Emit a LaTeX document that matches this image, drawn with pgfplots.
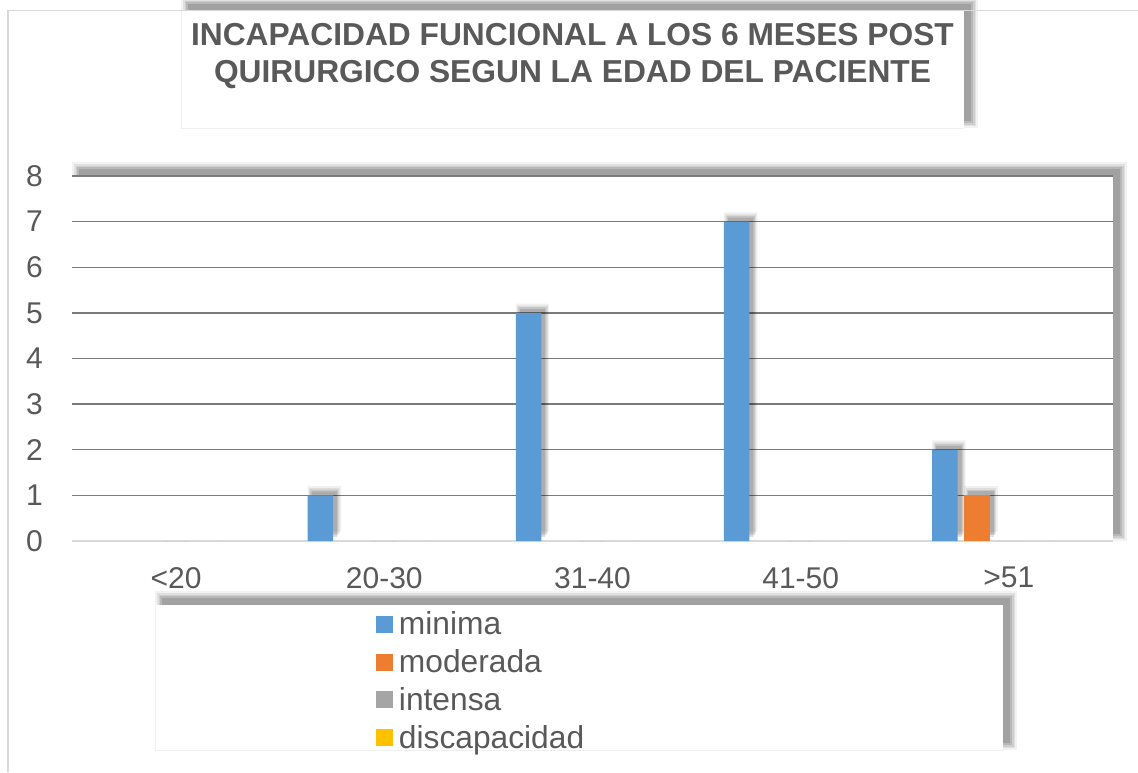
\documentclass[border=0pt]{standalone}
\usepackage{pgfplots}
\pgfplotsset{compat=1.18}
\usepackage{pgfplotstable}
\usepackage{fontspec}
\setmainfont{Liberation Sans}
\definecolor{txt}{HTML}{595959}
\definecolor{gridc}{HTML}{7A7A7A}
\definecolor{axc}{HTML}{D9D9D9}
\definecolor{cmin}{HTML}{5B9BD5}
\definecolor{cmod}{HTML}{ED7D31}
\definecolor{cint}{HTML}{A5A5A5}
\definecolor{cdis}{HTML}{FFC000}
\newcommand\PX[2]{({(#1)*0.75pt},{-(#2)*0.75pt})}
\newcommand\shadowbox[4]{%
  \foreach \d/\o in {7/0.05,5.25/0.07,3.5/0.08,1.75/0.10,0/0.12}{%
    \fill[black,opacity=\o] \PX{#1+7-\d}{#2-7-\d} rectangle \PX{#3+7+\d}{#4-7+\d};
  }%
  \fill[white] \PX{#1}{#2} rectangle \PX{#3}{#4};
}
\pgfplotstableread{
x minima moderada intensa discapacidad
0 0 0 0 0
1 1 0 0 0
2 5 0 0 0
3 7 0 0 0
4 2 1 0 0
}\datatable
\pgfplotsset{nz/.style={unbounded coords=discard, y filter/.expression={y==0 ? nan : y}},
  shd/.style={ybar, forget plot, draw=none, fill=black, nz}}
\begin{document}
\begin{tikzpicture}
\path[use as bounding box] (0,0) rectangle \PX{1138}{772};
\fill[white] (0,0) rectangle \PX{1138}{772};
\shadowbox{181}{11}{964}{128}
\shadowbox{155}{605}{1003}{750}
\shadowbox{72}{176}{1113}{541}
\draw[black!6, line width=0.75pt] \PX{181}{11} -- \PX{181}{128} -- \PX{964}{128};
\draw[black!6, line width=0.75pt] \PX{155}{605} -- \PX{155}{750} -- \PX{1003}{750};
\draw[axc, line width=1.2pt] \PX{8}{772} -- \PX{8}{10.5} -- \PX{1138}{10.5};
\node[anchor=base, font=\fontsize{23.8}{28}\selectfont\bfseries, text=txt, inner sep=0pt] at \PX{572.5}{45} {INCAPACIDAD FUNCIONAL A LOS 6 MESES POST};
\node[anchor=base, font=\fontsize{23.8}{28}\selectfont\bfseries, text=txt, inner sep=0pt] at \PX{572.5}{82} {QUIRURGICO SEGUN LA EDAD DEL PACIENTE};
\begin{axis}[
  at={(54pt,-405.75pt)}, anchor=south west,
  scale only axis, width=780.75pt, height=273.75pt,
  xmin=-0.5, xmax=4.5, ymin=0, ymax=8,
  axis lines*=left,
  y axis line style={draw=none},
  x axis line style={draw=axc, line width=1.5pt},
  xtick={0,...,4}, xticklabels={{<20},{20-30},{31-40},{41-50},{>51}},
  ytick={1,...,8}, extra y ticks={0}, extra y tick style={grid=none},
  major tick length=0pt,
  ymajorgrids, grid style={draw=gridc, line width=1pt},
  /pgf/number format/assume math mode=true,
  tick label style={font=\fontsize{22.5}{26}\selectfont, text=txt, inner sep=0pt},
  yticklabel style={anchor=east, xshift=-21.75pt},
  xticklabel style={anchor=north, yshift=-19.5pt},
  clip=false,
  legend style={at={(0.2920,-0.1953)}, anchor=north west, draw=none, fill=none,
    inner sep=0pt, outer sep=0pt, font=\fontsize{23.8}{28}\selectfont, text=txt,
    row sep=6.3pt, cells={anchor=base west},
    nodes={inner sep=0pt, outer sep=0pt, text height=17pt, text depth=5pt},
    /tikz/every odd column/.append style={column sep=4.5pt}},
  legend image code/.code={\fill[#1] (0pt,1.5pt) rectangle (12.75pt,14.25pt);},
]
% shadows minima
\addplot[shd, fill opacity=0.06, bar width=25.1pt, bar shift=-45pt, transform canvas={yshift=7pt}] table[x=x,y=minima]{\datatable};
\addplot[shd, fill opacity=0.08, bar width=23.1pt, bar shift=-45pt, transform canvas={yshift=5.5pt}] table[x=x,y=minima]{\datatable};
\addplot[shd, fill opacity=0.10, bar width=21.1pt, bar shift=-45pt, transform canvas={yshift=4.3pt}] table[x=x,y=minima]{\datatable};
\addplot[shd, fill opacity=0.12, bar width=19.1pt, bar shift=-45pt, transform canvas={yshift=3pt}] table[x=x,y=minima]{\datatable};
\addplot[ybar, nz, draw=none, fill=cmin, bar width=19.125pt, bar shift=-48pt] table[x=x,y=minima]{\datatable};
% shadows moderada
\addplot[shd, fill opacity=0.06, bar width=25.1pt, bar shift=-21pt, transform canvas={yshift=7pt}] table[x=x,y=moderada]{\datatable};
\addplot[shd, fill opacity=0.08, bar width=23.1pt, bar shift=-21pt, transform canvas={yshift=5.5pt}] table[x=x,y=moderada]{\datatable};
\addplot[shd, fill opacity=0.10, bar width=21.1pt, bar shift=-21pt, transform canvas={yshift=4.3pt}] table[x=x,y=moderada]{\datatable};
\addplot[shd, fill opacity=0.12, bar width=19.1pt, bar shift=-21pt, transform canvas={yshift=3pt}] table[x=x,y=moderada]{\datatable};
\addplot[ybar, nz, draw=none, fill=cmod, bar width=19.125pt, bar shift=-24pt] table[x=x,y=moderada]{\datatable};
\addplot[ybar, draw=none, fill=cint, bar width=19.125pt, bar shift=0pt] table[x=x,y=intensa]{\datatable};
\addplot[ybar, draw=none, fill=cdis, bar width=19.125pt, bar shift=24pt] table[x=x,y=discapacidad]{\datatable};
\legend{minima,moderada,intensa,discapacidad}
\end{axis}
\end{tikzpicture}
\end{document}
